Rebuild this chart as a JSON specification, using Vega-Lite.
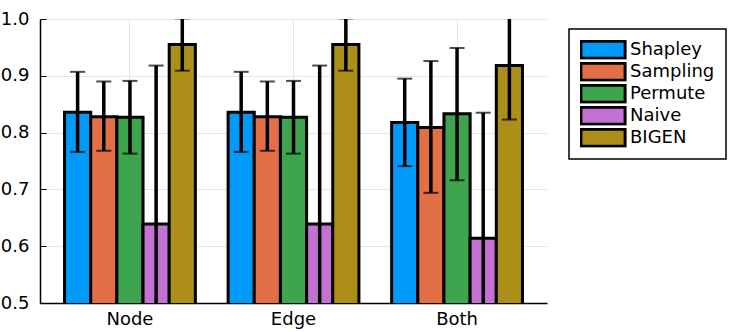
{
  "$schema": "https://vega.github.io/schema/vega-lite/v6.json",
  "autosize": {"type": "none"},
  "padding": {"left": 40, "top": 19, "right": 200, "bottom": 29},
  "width": 507,
  "height": 284,
  "config": {
    "font": "DejaVu Sans",
    "view": {"stroke": null},
    "axis": {"labelFont": "DejaVu Sans", "labelColor": "black"},
    "legend": {"labelFont": "DejaVu Sans", "labelColor": "black"}
  },
  "data": {
    "values": [
      {"cat": "Node", "series": "Shapley", "mean": 0.836, "lo": 0.766, "hi": 0.907},
      {"cat": "Node", "series": "Sampling", "mean": 0.828, "lo": 0.768, "hi": 0.890},
      {"cat": "Node", "series": "Permute", "mean": 0.827, "lo": 0.763, "hi": 0.891},
      {"cat": "Node", "series": "Naive", "mean": 0.639, "lo": 0.360, "hi": 0.918},
      {"cat": "Node", "series": "BIGEN", "mean": 0.955, "lo": 0.909, "hi": 1.001},
      {"cat": "Edge", "series": "Shapley", "mean": 0.836, "lo": 0.766, "hi": 0.907},
      {"cat": "Edge", "series": "Sampling", "mean": 0.828, "lo": 0.768, "hi": 0.890},
      {"cat": "Edge", "series": "Permute", "mean": 0.827, "lo": 0.763, "hi": 0.891},
      {"cat": "Edge", "series": "Naive", "mean": 0.639, "lo": 0.360, "hi": 0.918},
      {"cat": "Edge", "series": "BIGEN", "mean": 0.955, "lo": 0.909, "hi": 1.001},
      {"cat": "Both", "series": "Shapley", "mean": 0.818, "lo": 0.741, "hi": 0.895},
      {"cat": "Both", "series": "Sampling", "mean": 0.809, "lo": 0.694, "hi": 0.926},
      {"cat": "Both", "series": "Permute", "mean": 0.833, "lo": 0.716, "hi": 0.949},
      {"cat": "Both", "series": "Naive", "mean": 0.614, "lo": 0.393, "hi": 0.835},
      {"cat": "Both", "series": "BIGEN", "mean": 0.918, "lo": 0.823, "hi": 1.013}
    ]
  },
  "encoding": {
    "x": {
      "field": "cat",
      "type": "nominal",
      "sort": ["Node", "Edge", "Both"],
      "scale": {"paddingInner": 0, "paddingOuter": 0.05},
      "axis": {
        "title": null,
        "labelAngle": 0,
        "labelFontSize": 18,
        "labelPadding": 7,
        "ticks": false,
        "domainColor": "black",
        "domainWidth": 1.5,
        "grid": true,
        "gridColor": "#e6e6e6",
        "gridWidth": 1,
        "bandPosition": 0.5,
        "zindex": 0
      }
    },
    "xOffset": {
      "field": "series",
      "type": "nominal",
      "sort": ["Shapley", "Sampling", "Permute", "Naive", "BIGEN"],
      "scale": {"paddingInner": 0, "paddingOuter": 0.625}
    }
  },
  "layer": [
    {
      "mark": {"type": "bar", "stroke": "black", "strokeWidth": 3, "clip": true, "opacity": 1},
      "encoding": {
        "y": {
          "field": "mean",
          "type": "quantitative",
          "scale": {"domain": [0.5, 1.0], "zero": false, "nice": false},
          "axis": {
            "title": null,
            "values": [0.5, 0.6, 0.7, 0.8, 0.9, 1.0],
            "format": ".1f",
            "labelFontSize": 18,
            "tickSize": -6,
            "tickColor": "black",
            "tickWidth": 1,
            "labelPadding": 17,
            "domainColor": "black",
            "domainWidth": 1.5,
            "gridColor": "#e6e6e6",
            "gridWidth": 1,
            "zindex": 0
          }
        },
        "color": {
          "field": "series",
          "type": "nominal",
          "sort": ["Shapley", "Sampling", "Permute", "Naive", "BIGEN"],
          "scale": {"range": ["#009AFA", "#E36F47", "#3EA44E", "#C371D2", "#AC8E18"]},
          "legend": {
            "title": null,
            "orient": "none",
            "legendX": 529,
            "legendY": 10,
            "padding": 11,
            "strokeColor": "black",
            "fillColor": "white",
            "labelFontSize": 18,
            "symbolType": "M-2.6,-1H2.6V1H-2.6Z",
            "symbolSize": 289,
            "symbolStrokeColor": "black",
            "symbolStrokeWidth": 3,
            "symbolOpacity": 1,
            "symbolOffset": 13,
            "labelOffset": 17,
            "clipHeight": 19.5,
            "rowPadding": 2,
            "encode": {"legend": {"update": {"strokeWidth": {"value": 1.5}}}}
          }
        }
      }
    },
    {
      "mark": {"type": "rule", "color": "black", "strokeWidth": 3.5, "clip": true},
      "encoding": {
        "y": {"field": "lo", "type": "quantitative"},
        "y2": {"field": "hi"}
      }
    },
    {
      "mark": {"type": "tick", "color": "black", "size": 15, "thickness": 2, "clip": true},
      "encoding": {
        "y": {"field": "lo", "type": "quantitative"}
      }
    },
    {
      "mark": {"type": "tick", "color": "black", "size": 15, "thickness": 2, "clip": true},
      "encoding": {
        "y": {"field": "hi", "type": "quantitative"}
      }
    }
  ]
}
